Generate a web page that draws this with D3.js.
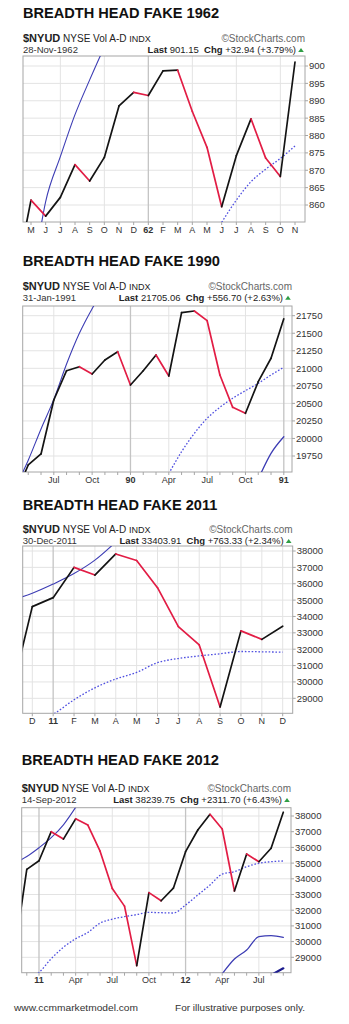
<!DOCTYPE html>
<html>
<head>
<meta charset="utf-8">
<script src="https://cdn.jsdelivr.net/npm/d3@7"></script>
<style>
  body { margin: 0; background: #fff; }
  svg { display: block; }
  text { font-family: "Liberation Sans", Arial, Helvetica, sans-serif; }
</style>
</head>
<body>
<svg id="chart" width="349" height="1024"></svg>
<script>
// ---------- 1961-62 (monthly closes, NYSE volume A-D line) ----------
const months1962 = ["1961-04","1961-05","1961-06","1961-07","1961-08","1961-09","1961-10","1961-11","1961-12",
  "1962-01","1962-02","1962-03","1962-04","1962-05","1962-06","1962-07","1962-08","1962-09","1962-10","1962-11"];
const close1962 = [840, 861.4, 856.8, 862.2, 871.6, 866.9, 873.7, 888.5, 892.4,
  891.5, 898.6, 898.8, 886.9, 876.6, 859.5, 874.2, 884.8, 873.5, 868.2, 901.15];
const fast1962 = [812, 836.2, 861, 873.9, 886, 896, 905.5, null, null,
  null, null, null, null, null, null, null, null, null, null, null];
const slow1962 = [null, null, null, null, null, null, null, null, null,
  null, null, null, null, null, 855, 861.4, 866.7, 870.3, 873.4, 877];
const tickMonths1962 = ["1961-05","1961-06","1961-07","1961-08","1961-09","1961-10","1961-11","1961-12",
  "1962-01","1962-02","1962-03","1962-04","1962-05","1962-06","1962-07","1962-08","1962-09","1962-10","1962-11"];
const tickText1962 = ["M","J","J","A","S","O","N","D","62","F","M","A","M","J","J","A","S","O","N"];
const yTicks1962 = [860, 865, 870, 875, 880, 885, 890, 895, 900];

// ---------- 1989-91 ----------
const months1990 = ["1989-04","1989-05","1989-06","1989-07","1989-08","1989-09","1989-10","1989-11","1989-12",
  "1990-01","1990-02","1990-03","1990-04","1990-05","1990-06","1990-07","1990-08","1990-09","1990-10","1990-11","1990-12","1991-01"];
const close1990 = [19200, 19622, 19779, 20548, 20966, 21023, 20919, 21118, 21237,
  20762, 20966, 21190, 20890, 21793, 21817, 21679, 20905, 20444, 20359, 20809, 21143, 21705.06];
const fast1990 = [19300, 19690, 20136, 20557, 21061, 21499, 21850, 22150, null,
  null, null, null, null, null, null, null, null, null, null, null, null, null];
const slow1990 = [null, null, null, null, null, null, null, null, null,
  null, null, null, 19500, 19811, 20073, 20287, 20444, 20573, 20681, 20786, 20905, 21014];
const low1990 = [null, null, null, null, null, null, null, null, null,
  null, null, null, null, null, null, null, null, null, null, 19420, 19788, 20025];
const tickMonths1990 = ["1989-07","1989-10","1990-01","1990-04","1990-07","1990-10","1991-01"];
const tickText1990 = ["Jul","Oct","90","Apr","Jul","Oct","91"];
const yTicks1990 = [19750, 20000, 20250, 20500, 20750, 21000, 21250, 21500, 21750];

// ---------- 2010-11 ----------
const months2011 = ["2010-11","2010-12","2011-01","2011-02","2011-03","2011-04","2011-05",
  "2011-06","2011-07","2011-08","2011-09","2011-10","2011-11","2011-12"];
const close2011 = [29300, 34600, 35150, 37000, 36530, 37820, 37420, 35760, 33380, 32260, 28470, 33120, 32600, 33403.91];
const fast2011 = [35000, 35420, 35980, 36620, 37440, 38550, null, null, null, null, null, null, null, null];
const slow2011 = [null, 27500, 28030, 28910, 29640, 30180, 30580, 31180, 31430, 31590, 31720, 31860, 31840, 31820];
const tickMonths2011 = ["2010-12","2011-01","2011-02","2011-03","2011-04","2011-05","2011-06",
  "2011-07","2011-08","2011-09","2011-10","2011-11","2011-12"];
const tickText2011 = ["D","11","F","M","A","M","J","J","A","S","O","N","D"];
const yTicks2011 = [29000, 30000, 31000, 32000, 33000, 34000, 35000, 36000, 37000, 38000];

// ---------- 2012 (continues the 2011 series) ----------
const months2012 = ["2012-01","2012-02","2012-03","2012-04","2012-05","2012-06","2012-07","2012-08","2012-09"];
const close2012 = [35726, 37108, 38108, 37172, 33223, 35580, 35089, 35943, 38239.75];
const slow2012 = [32331, 32968, 33605, 34300, 34452, 34771, 34987, 35089, 35134];
const mid2012 = [null, null, null, 27950, 28892, 29465, 30312, 30376, 30274];
const low2012 = [null, null, null, null, null, null, null, 27870, 28299];
const tickMonths2012 = ["2011-01","2011-04","2011-07","2011-10","2012-01","2012-04","2012-07"];
const tickText2012 = ["11","Apr","Jul","Oct","12","Apr","Jul"];
const yTicks2012 = [29000, 30000, 31000, 32000, 33000, 34000, 35000, 36000, 37000, 38000];

// ---------- drawing ----------
const svg = d3.select("#chart");
const RED = "#e21d45", BLACK = "#141414", BLUE = "#3d3db4", DOT = "#4f4fe0", NAVY = "#1b1b8e";
const GRID = "#e3e3e3", YEARGRID = "#c4c4c4", FRAME = "#a6a6a6";

const monthIndex = s => { const [yy, mm] = s.split("-").map(Number); return yy * 12 + mm - 1; };
const fmtNum = d3.format("d");

function drawPanel(p, n) {
  const g = svg.append("g");
  const { left, top, right, bottom } = p.box;
  const x = d3.scaleLinear()
    .domain([monthIndex(p.xAnchor[0]), monthIndex(p.xAnchor[1])])
    .range([p.xAnchor[2], p.xAnchor[3]]);
  const y = d3.scaleLinear()
    .domain([p.yAnchor[0], p.yAnchor[1]])
    .range([p.yAnchor[2], p.yAnchor[3]]);

  // headline
  g.append("text")
    .attr("x", left).attr("y", p.titleY)
    .attr("textLength", p.titleW).attr("lengthAdjust", "spacingAndGlyphs")
    .style("font-size", "15.5px").style("font-weight", "bold").attr("fill", "#111")
    .text(p.title);

  // symbol line
  const sym = g.append("text").attr("x", left).attr("y", p.symY).attr("fill", "#222");
  sym.append("tspan").style("font-size", "11px").style("font-weight", "bold").text("$NYUD");
  sym.append("tspan").style("font-size", "10px").text(" NYSE Vol A-D ");
  sym.append("tspan").style("font-size", "9px").text("INDX");
  g.append("text")
    .attr("x", right).attr("y", p.symY).attr("text-anchor", "end")
    .style("font-size", "10px").attr("fill", "#666")
    .text("\u00A9StockCharts.com");

  // date / last / change line
  g.append("text").attr("x", left).attr("y", p.dateY)
    .style("font-size", "9.5px").attr("fill", "#333").text(p.date);
  const last = g.append("text").attr("x", right - 9).attr("y", p.dateY)
    .attr("text-anchor", "end").style("font-size", "9.5px").attr("fill", "#222");
  last.append("tspan").style("font-weight", "bold").text("Last ");
  last.append("tspan").text(p.last + "\u00A0\u00A0");
  last.append("tspan").style("font-weight", "bold").text("Chg ");
  last.append("tspan").text(p.chg);
  const tx = right - 4, ty = p.dateY - 3;
  g.append("path")
    .attr("d", `M${tx - 2.8},${ty + 1.8}L${tx + 2.8},${ty + 1.8}L${tx},${ty - 2.2}Z`)
    .attr("fill", "#2f9e45");

  // grid
  const mFirst = Math.ceil(x.invert(left)), mLast = Math.floor(x.invert(right));
  const monthsInView = d3.range(mFirst, mLast + 1);
  g.append("g").selectAll("line").data(p.yTicks).join("line")
    .attr("x1", left).attr("x2", right)
    .attr("y1", d => y(d)).attr("y2", d => y(d))
    .attr("stroke", GRID).attr("stroke-width", 1);
  g.append("g").selectAll("line")
    .data(monthsInView.filter(m => m % p.gridStep === 0)).join("line")
    .attr("x1", d => x(d)).attr("x2", d => x(d))
    .attr("y1", top).attr("y2", bottom)
    .attr("stroke", d => d % 12 === 0 ? YEARGRID : GRID)
    .attr("stroke-width", d => d % 12 === 0 ? 1.3 : 1);

  // frame
  g.append("rect").attr("x", left).attr("y", top)
    .attr("width", right - left).attr("height", bottom - top)
    .attr("fill", "none").attr("stroke", FRAME).attr("stroke-width", 1);

  // bottom ticks (every month) and labels
  g.append("g").selectAll("line").data(monthsInView).join("line")
    .attr("x1", d => x(d)).attr("x2", d => x(d))
    .attr("y1", bottom).attr("y2", bottom + 3)
    .attr("stroke", FRAME);
  g.append("g").selectAll("text").data(p.tickMonths).join("text")
    .attr("x", d => x(monthIndex(d))).attr("y", bottom + 10.5)
    .attr("text-anchor", "middle")
    .style("font-size", "9px")
    .style("font-weight", (d, i) => /^\d+$/.test(p.tickText[i]) ? "bold" : "normal")
    .attr("fill", "#333")
    .text((d, i) => p.tickText[i]);

  // right axis
  g.append("g").selectAll("line").data(p.yTicks).join("line")
    .attr("x1", right).attr("x2", right + 3)
    .attr("y1", d => y(d)).attr("y2", d => y(d))
    .attr("stroke", FRAME);
  g.append("g").selectAll("text").data(p.yTicks).join("text")
    .attr("x", right + 4).attr("y", d => y(d) + 3.4)
    .style("font-size", "9.5px").attr("fill", "#333")
    .text(d => fmtNum(d));

  // clip region for the series
  const clipId = "clip" + n;
  svg.append("clipPath").attr("id", clipId).append("rect")
    .attr("x", left).attr("y", top).attr("width", right - left).attr("height", bottom - top);
  const plot = g.append("g").attr("clip-path", `url(#${clipId})`);

  const pts = vals => p.months.map((m, i) => ({ m: monthIndex(m), v: vals[i] }));
  const line = d3.line().defined(d => d.v != null).x(d => x(d.m)).y(d => y(d.v));

  // moving averages
  p.overlays.forEach(o => {
    plot.append("path").datum(pts(o.values))
      .attr("d", line.curve(d3.curveMonotoneX))
      .attr("fill", "none").attr("stroke", o.color)
      .attr("stroke-width", o.width)
      .attr("stroke-dasharray", o.dash || null)
      .attr("stroke-linecap", o.dash ? "butt" : "round");
  });

  // close line: red where the month closed lower, black where higher
  const c = pts(p.close);
  const segs = d3.range(1, c.length).map(i => [c[i - 1], c[i]]);
  plot.append("g").selectAll("path").data(segs).join("path")
    .attr("d", s => line.curve(d3.curveLinear)(s))
    .attr("fill", "none")
    .attr("stroke", s => s[1].v < s[0].v ? RED : BLACK)
    .attr("stroke-width", 1.7)
    .attr("stroke-linecap", "round").attr("stroke-linejoin", "round");
}

const panels = [
  {
    title: "BREADTH HEAD FAKE 1962", titleY: 18.3, titleW: 196,
    symY: 41.7, dateY: 53.3, date: "28-Nov-1962", last: "901.15", chg: "+32.94 (+3.79%)",
    box: { left: 23, top: 56, right: 305, bottom: 222 },
    xAnchor: ["1961-05", "1962-11", 31, 295], yAnchor: [860, 900, 205, 66],
    gridStep: 3,
    months: months1962, close: close1962,
    overlays: [
      { values: fast1962, color: BLUE, width: 1.1 },
      { values: slow1962, color: DOT, width: 1.3, dash: "1.6,1.8" }
    ],
    tickMonths: tickMonths1962, tickText: tickText1962, yTicks: yTicks1962
  },
  {
    title: "BREADTH HEAD FAKE 1990", titleY: 265.7, titleW: 197.3,
    symY: 290, dateY: 301, date: "31-Jan-1991", last: "21705.06", chg: "+556.70 (+2.63%)",
    box: { left: 22.7, top: 306, right: 292, bottom: 472 },
    xAnchor: ["1989-07", "1991-01", 53.8, 283.8], yAnchor: [19750, 21750, 456, 315.7],
    gridStep: 3,
    months: months1990, close: close1990,
    overlays: [
      { values: fast1990, color: BLUE, width: 1.1 },
      { values: slow1990, color: DOT, width: 1.3, dash: "1.6,1.8" },
      { values: low1990, color: BLUE, width: 1.3 }
    ],
    tickMonths: tickMonths1990, tickText: tickText1990, yTicks: yTicks1990
  },
  {
    title: "BREADTH HEAD FAKE 2011", titleY: 510, titleW: 194.6,
    symY: 533.3, dateY: 544.3, date: "30-Dec-2011", last: "33403.91", chg: "+763.33 (+2.34%)",
    box: { left: 22.7, top: 546, right: 292.7, bottom: 713.3 },
    xAnchor: ["2010-12", "2011-12", 32.3, 282.7], yAnchor: [29000, 38000, 698.3, 551],
    gridStep: 1,
    months: months2011, close: close2011,
    overlays: [
      { values: fast2011, color: BLUE, width: 1.1 },
      { values: slow2011, color: DOT, width: 1.3, dash: "1.6,1.8" }
    ],
    tickMonths: tickMonths2011, tickText: tickText2011, yTicks: yTicks2011
  },
  {
    title: "BREADTH HEAD FAKE 2012", titleY: 765, titleW: 197.3,
    symY: 792.3, dateY: 803.3, date: "14-Sep-2012", last: "38239.75", chg: "+2311.70 (+6.43%)",
    box: { left: 21.7, top: 807.7, right: 291, bottom: 972.7 },
    xAnchor: ["2011-01", "2012-09", 39, 283.3], yAnchor: [29000, 38000, 957.3, 816],
    gridStep: 3,
    months: months2011.concat(months2012), close: close2011.concat(close2012),
    overlays: [
      { values: fast2011.concat(months2012.map(() => null)), color: BLUE, width: 1.1 },
      { values: slow2011.concat(slow2012), color: DOT, width: 1.3, dash: "1.6,1.8" },
      { values: months2011.map(() => null).concat(mid2012), color: BLUE, width: 1.3 },
      { values: months2011.map(() => null).concat(low2012), color: NAVY, width: 2.2 }
    ],
    tickMonths: tickMonths2012, tickText: tickText2012, yTicks: yTicks2012
  }
];

panels.forEach(drawPanel);

// footer
svg.append("text").attr("x", 14).attr("y", 1010.7)
  .attr("textLength", 124).attr("lengthAdjust", "spacingAndGlyphs")
  .style("font-size", "9.5px").attr("fill", "#333").text("www.ccmmarketmodel.com");
svg.append("text").attr("x", 175).attr("y", 1010.7)
  .attr("textLength", 130).attr("lengthAdjust", "spacingAndGlyphs")
  .style("font-size", "9.5px").attr("fill", "#333").text("For illustrative purposes only.");
</script>
</body>
</html>
